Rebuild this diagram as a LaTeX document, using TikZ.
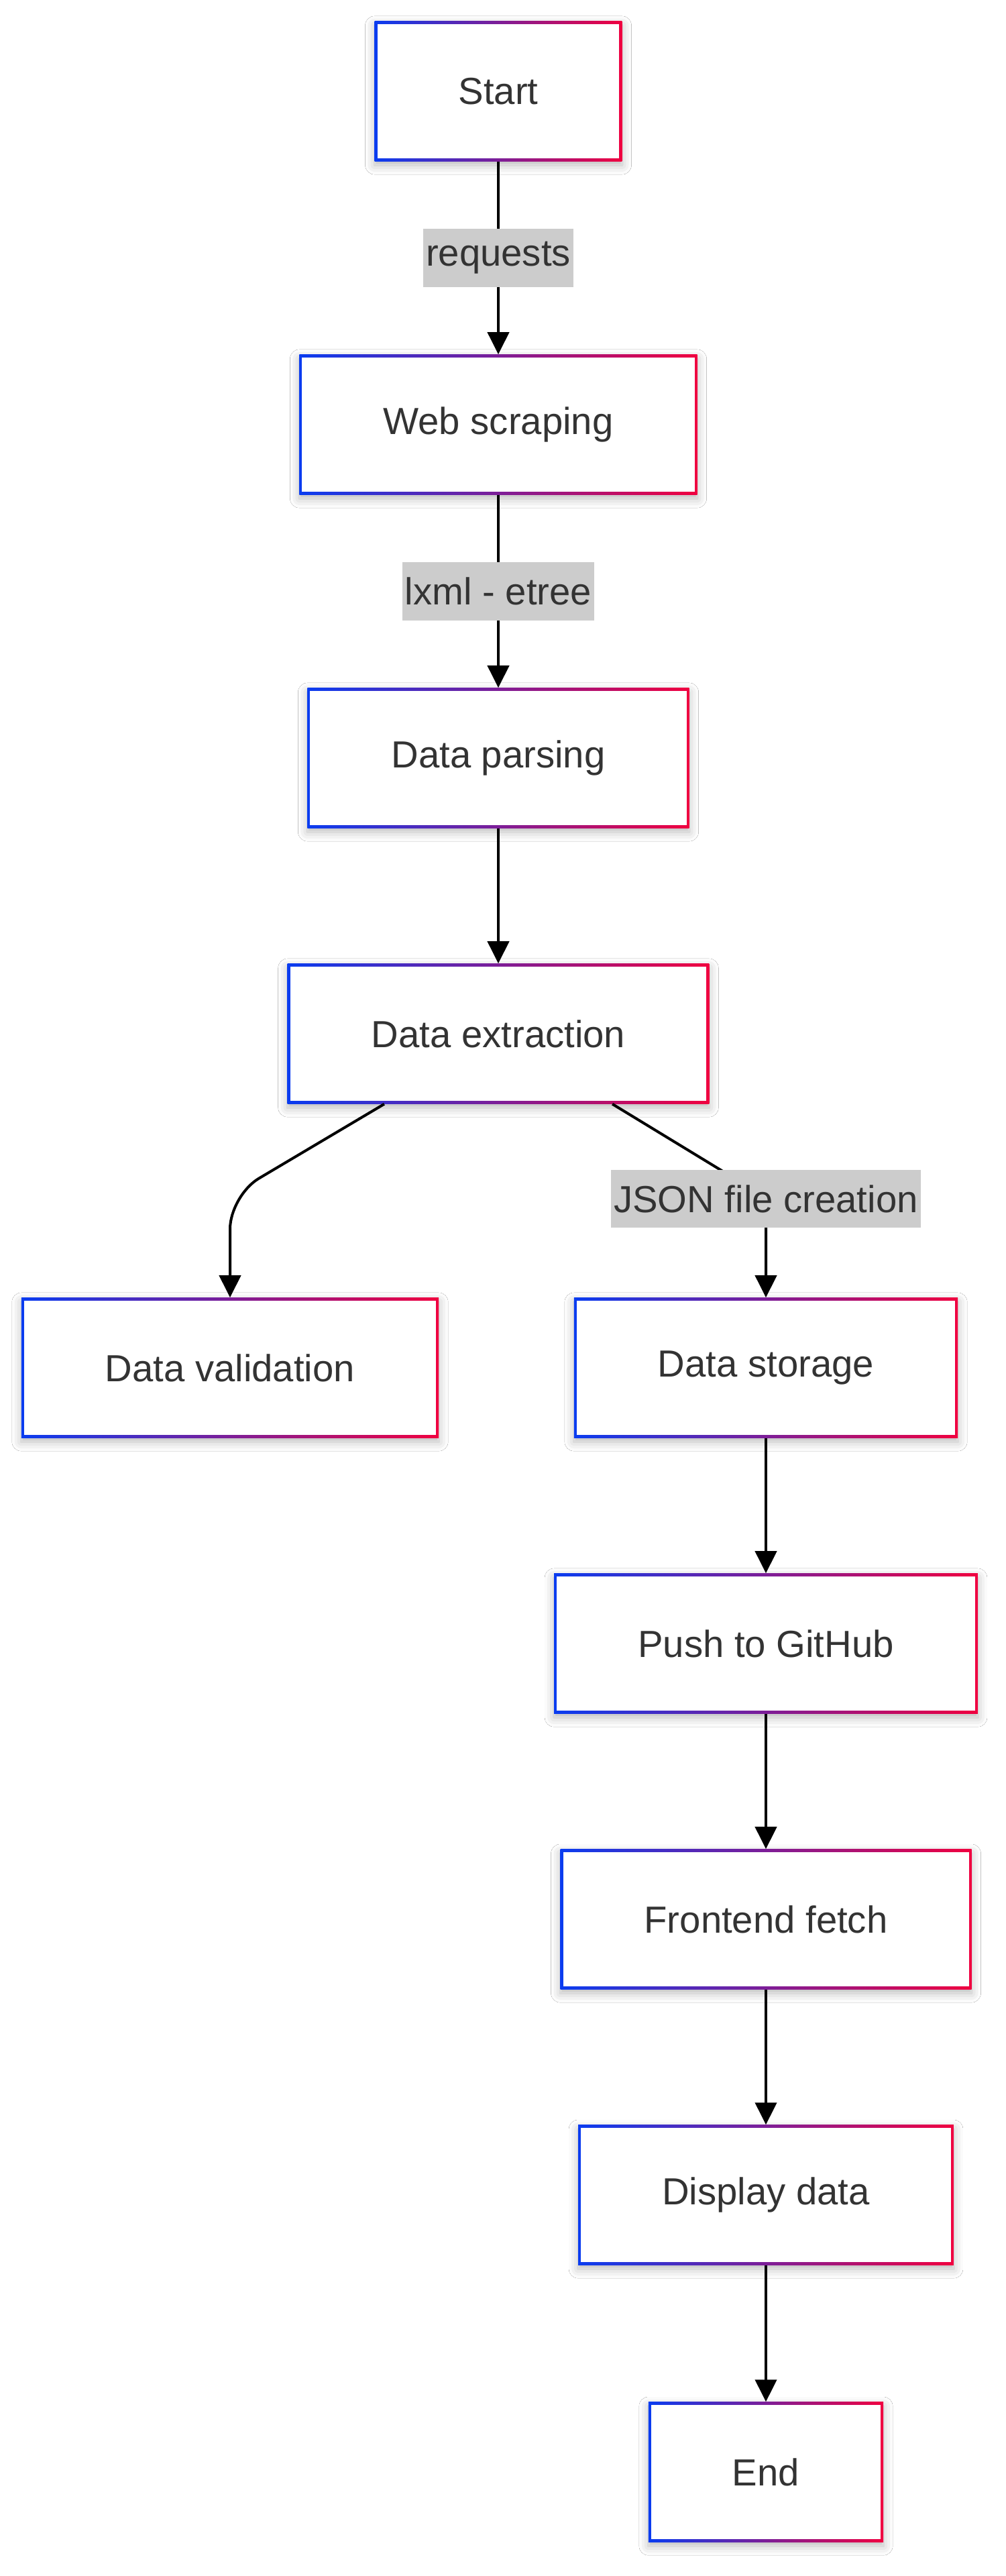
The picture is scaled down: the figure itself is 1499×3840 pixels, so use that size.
\documentclass[tikz,border=0pt]{standalone}
\usepackage{fontspec}
\setmainfont{Liberation Sans}
\usetikzlibrary{arrows.meta}
\usetikzlibrary{calc}
\usetikzlibrary{shadows.blur}
\definecolor{leftblue}{HTML}{0A3CF0}
\definecolor{rightred}{HTML}{F00040}
\definecolor{txtgray}{HTML}{333333}
\definecolor{labelgray}{HTML}{CCCCCC}
\tikzset{stepbox/.style = {rectangle, minimum height = 2.08cm, inner xsep = 1.25cm,
    left color = leftblue, right color = rightred, text = txtgray,
    font = \fontsize{16}{19}\selectfont,
    blur shadow = {shadow xshift = 0pt, shadow yshift = -0.06cm, shadow blur radius = 0.14cm, shadow opacity = 28},
    path picture = {\fill [white] ([shift = {(0.04cm,0.04cm)}]path picture bounding box.south west)
        rectangle ([shift = {(-0.04cm,-0.04cm)}]path picture bounding box.north east);}}}
\tikzset{edgelabel/.style = {rectangle, fill = labelgray, text = txtgray, inner xsep = 0.04cm,
    minimum height = 0.86cm, font = \fontsize{16}{19}\selectfont}}
\tikzset{flow/.style = {-{Triangle[length = 0.33cm, width = 0.32cm]}, line width = 0.04cm, black}}

\begin{document}
\begin{tikzpicture}[x = 0.01cm, y = -0.01cm]
            \useasboundingbox [fill = white] (0,0) rectangle (1499,3840);
            \node [stepbox] (start) at (743,136) {Start};
            \node [stepbox] (web) at (743,633) {Web scraping};
            \node [stepbox] (parse) at (743,1130) {Data parsing};
            \node [stepbox] (extr) at (743,1541) {Data extraction};
            \node [stepbox] (valid) at (343,2039) {Data validation};
            \node [stepbox] (stor) at (1142,2039) {Data storage};
            \node [stepbox] (push) at (1142,2450) {Push to GitHub};
            \node [stepbox] (fetch) at (1142,2861) {Frontend fetch};
            \node [stepbox] (disp) at (1142,3272) {Display data};
            \node [stepbox] (fin) at (1142,3685) {End};
            \draw [flow] (start) -- node [edgelabel] {requests} (web);
            \draw [flow] (web) -- node [edgelabel] {lxml - etree} (parse);
            \draw [flow] (parse) -- (extr);
            \draw [flow, rounded corners = 0.5cm] ($(extr.south west)!0.23!(extr.south east)$)
                -- ($(valid.north)+(0,1.52cm)$) -- (valid.north);
            \draw [flow, rounded corners = 0.3cm] ($(extr.south west)!0.77!(extr.south east)$)
                -- ($(stor.north)+(0,1.49cm)$) -- (stor.north);
            \node [edgelabel] (json) at ($(stor.north)+(0,1.47cm)$) {JSON file creation};
            \draw [flow] (stor) -- (push);
            \draw [flow] (push) -- (fetch);
            \draw [flow] (fetch) -- (disp);
            \draw [flow] (disp) -- (fin);
        \end{tikzpicture}
\end{document}
